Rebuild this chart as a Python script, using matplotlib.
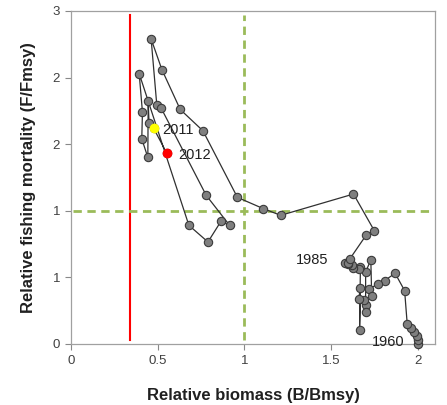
import matplotlib
matplotlib.use("Agg")
import matplotlib.pyplot as plt
import numpy as np

plt.rcParams['font.family'] = ['Liberation Sans', 'DejaVu Sans']

# stock trajectory, 1960-2012
years = np.arange(1960, 2013)
biomass = [2.00, 2.00, 1.995, 1.98, 1.96, 1.94,
           1.925, 1.87, 1.81, 1.77,
           1.72, 1.735, 1.73, 1.70, 1.70, 1.70, 1.69, 1.66, 1.67, 1.665,
           1.67, 1.66, 1.63, 1.62, 1.60,
           1.58, 1.60, 1.61, 1.705, 1.75,
           1.63, 1.21, 1.11, 0.96, 0.761, 0.63, 0.524, 0.462, 0.495, 0.52,
           0.78, 0.915, 0.865, 0.79, 0.68, 0.393, 0.412, 0.408, 0.443, 0.445,
           0.45, 0.476, 0.553]
fishing = [0.0, 0.03, 0.06, 0.09, 0.12, 0.15,
           0.40, 0.53, 0.475, 0.45,
           0.41, 0.36, 0.63, 0.54, 0.29, 0.24, 0.33, 0.34, 0.42, 0.105,
           0.58, 0.56, 0.57, 0.59, 0.60,
           0.61, 0.61, 0.64, 0.82, 0.85,
           1.125, 0.965, 1.015, 1.10, 1.60, 1.76, 2.06, 2.29, 1.79, 1.77,
           1.115, 0.89, 0.92, 0.765, 0.89, 2.03, 1.74, 1.54, 1.40, 1.82,
           1.66, 1.62, 1.43]

# highlighted years and reference points
highlight = {2011: '#FFFF00', 2012: '#FF0000'}
labelled_years = [1960, 1985, 2011, 2012]
b_lim = 0.34      # red limit line
b_msy = 1.0
f_msy = 1.0

xticks = [0, 0.5, 1, 1.5, 2]
xtick_labels = ['0', '0.5', '1', '1.5', '2']
yticks = [0, 0.5, 1, 1.5, 2, 2.5]
ytick_labels = ['0', '1', '1', '2', '2', '3']

fig = plt.figure(figsize=(4.47, 4.05), dpi=100)
ax = fig.add_axes([0.159, 0.151, 0.814, 0.822])

green = '#9BBB59'
ax.plot([b_lim, b_lim], [0.03, 2.47], color='#FF0000', lw=1.5, zorder=1)
ax.plot([b_msy, b_msy], [0.03, 2.47], color=green, lw=2, dashes=(3, 2), zorder=1)
ax.plot([0.01, 2.07], [f_msy, f_msy], color=green, lw=2, dashes=(3, 2), zorder=1)

ax.plot(biomass, fishing, color='#303030', lw=0.9, marker='o', ms=6,
        mfc='#7F7F7F', mec='#3A3A3A', mew=0.8, zorder=3, clip_on=False)

for yr, col in highlight.items():
    i = int(np.where(years == yr)[0][0])
    ax.plot(biomass[i], fishing[i], 'o', ms=6, mfc=col, mec=col, zorder=4)

offsets = {1960: (-33, 1), 1985: (-35, 2), 2011: (6, -1), 2012: (8, -1)}
for yr in labelled_years:
    i = int(np.where(years == yr)[0][0])
    ax.annotate(str(yr), (biomass[i], fishing[i]), xytext=offsets[yr],
                textcoords='offset points', fontsize=10.5, color='#202020',
                va='center', ha='left', zorder=5)

ax.set_xlim(0, 2.1)
ax.set_ylim(0, 2.5)
ax.set_xticks(xticks)
ax.set_xticklabels(xtick_labels)
ax.set_yticks(yticks)
ax.set_yticklabels(ytick_labels)
ax.tick_params(direction='out', length=4, width=0.8, colors='#888888',
               labelcolor='#404040', labelsize=9.5, pad=4)
for s in ax.spines.values():
    s.set_color('#A0A0A0')
    s.set_linewidth(0.9)

ax.set_xlabel("Relative biomass (B/Bmsy)", fontsize=12, fontweight='bold',
              color='#202020', labelpad=15)
ax.set_ylabel("Relative fishing mortality (F/Fmsy)", fontsize=12,
              fontweight='bold', color='#202020', labelpad=12)

fig.savefig("out.png", dpi=100)
